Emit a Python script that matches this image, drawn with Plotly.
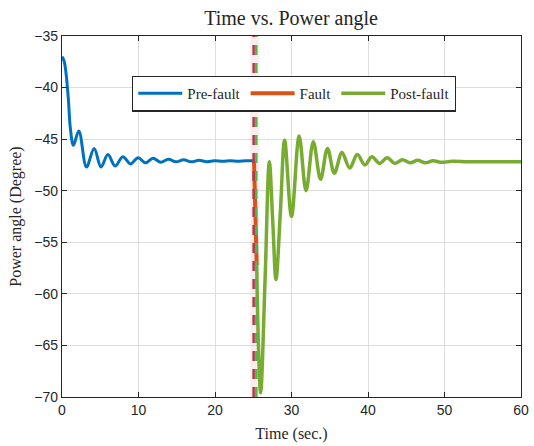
import plotly.graph_objects as go

# ---- data ----
pre_t = [0, 0.3, 0.8, 1.1, 1.5, 2.2, 3.2, 4.2, 5.1, 6.0, 6.95, 7.95, 8.95, 9.95, 10.9, 11.9,
         12.9, 13.9, 14.9, 15.9, 16.9, 17.9, 18.9, 19.9, 21, 22, 23, 24, 25.0]
pre_y = [-37.0, -37.5, -40.8, -44.0, -45.6, -44.2, -47.7, -45.9, -47.7, -46.5, -47.6, -46.7,
         -47.4, -46.8, -47.3, -46.85, -47.25, -46.95, -47.2, -47.0, -47.2, -47.05, -47.2,
         -47.1, -47.15, -47.1, -47.15, -47.1, -47.1]

fault_t = [25.1, 25.45]
fault_y = [-47.1, -57.2]

post_t = [25.45, 25.7, 25.97, 26.55, 27.1, 27.55, 27.97, 28.55, 29.1, 30.0, 31.0, 31.9, 32.85,
          33.8, 34.7, 35.6, 36.6, 37.6, 38.6, 39.6, 40.5, 41.5, 42.5, 43.5, 44.5, 45.5, 46.5,
          47.5, 48.5, 49.5, 51, 53, 55, 60]
post_y = [-57.2, -65.5, -69.6, -58.5, -47.2, -53.0, -58.6, -52.0, -45.1, -52.5, -44.7, -50.0,
          -45.25, -48.9, -45.9, -48.3, -46.3, -47.8, -46.5, -47.5, -46.7, -47.35, -46.8, -47.35,
          -47.0, -47.3, -47.05, -47.3, -47.1, -47.25, -47.15, -47.2, -47.2, -47.2]

fault_on = 25.05
fault_clear = 25.4
y_range = [-70, -35]
x_ticks = [0, 10, 20, 30, 40, 50, 60]
y_ticks = [-70, -65, -60, -55, -50, -45, -40, -35]

serif = "Liberation Serif, DejaVu Serif, serif"
sans = "Liberation Sans, Arial, sans-serif"

fig = go.Figure()

# translucent band around switching instants
fig.add_trace(go.Scatter(x=[fault_on + 0.15, fault_on + 0.15], y=y_range, mode="lines",
                         line=dict(color="rgba(217,83,100,0.10)", width=9),
                         showlegend=False, hoverinfo="skip"))

fig.add_trace(go.Scatter(x=pre_t, y=pre_y, mode="lines", name="Pre-fault",
                         line=dict(color="#0072BD", width=3, shape="spline")))
fig.add_trace(go.Scatter(x=fault_t, y=fault_y, mode="lines", name="Fault",
                         line=dict(color="#D95319", width=4)))
fig.add_trace(go.Scatter(x=post_t, y=post_y, mode="lines", name="Post-fault",
                         line=dict(color="#77AC30", width=3.5, shape="spline")))

fig.add_trace(go.Scatter(x=[fault_on, fault_on], y=y_range, mode="lines",
                         line=dict(color="#B03A48", width=2.5, dash="10px,8px"),
                         showlegend=False, hoverinfo="skip"))
fig.add_trace(go.Scatter(x=[fault_clear, fault_clear], y=y_range, mode="lines",
                         line=dict(color="#4CB84C", width=2.5, dash="10px,8px"),
                         showlegend=False, hoverinfo="skip"))

axis_common = dict(showline=True, linecolor="#262626", linewidth=1.3, mirror="ticks",
                   ticks="inside", ticklen=5, tickcolor="#262626", tickwidth=1.3,
                   showgrid=True, gridcolor="#dedede", gridwidth=1, zeroline=False,
                   automargin=False,
                   tickfont=dict(family=sans, size=14, color="#262626"))

fig.update_layout(
    width=534, height=446,
    margin=dict(l=62, r=13, t=36, b=49),
    paper_bgcolor="white", plot_bgcolor="white",
    title=dict(text="Time vs. Power angle", x=0.545, xanchor="center", y=0.96, yanchor="middle",
               font=dict(family=serif, size=20, color="#262626")),
    xaxis=dict(range=[0, 60], tickvals=x_ticks,
               title=dict(text="Time (sec.)", font=dict(family=serif, size=16, color="#262626"),
                          standoff=10),
               **axis_common),
    yaxis=dict(range=y_range, tickvals=y_ticks,
               title=dict(text="Power angle (Degree)",
                          font=dict(family=serif, size=16, color="#262626"), standoff=8),
               **axis_common),
    legend=dict(orientation="h", x=0.1525, xanchor="left", y=0.89, yanchor="top",
                bordercolor="#262626", borderwidth=1.3, bgcolor="white",
                font=dict(family=serif, size=15, color="#262626"),
                tracegroupgap=0, itemwidth=44),
    showlegend=True,
)

fig.write_html("out.html")
